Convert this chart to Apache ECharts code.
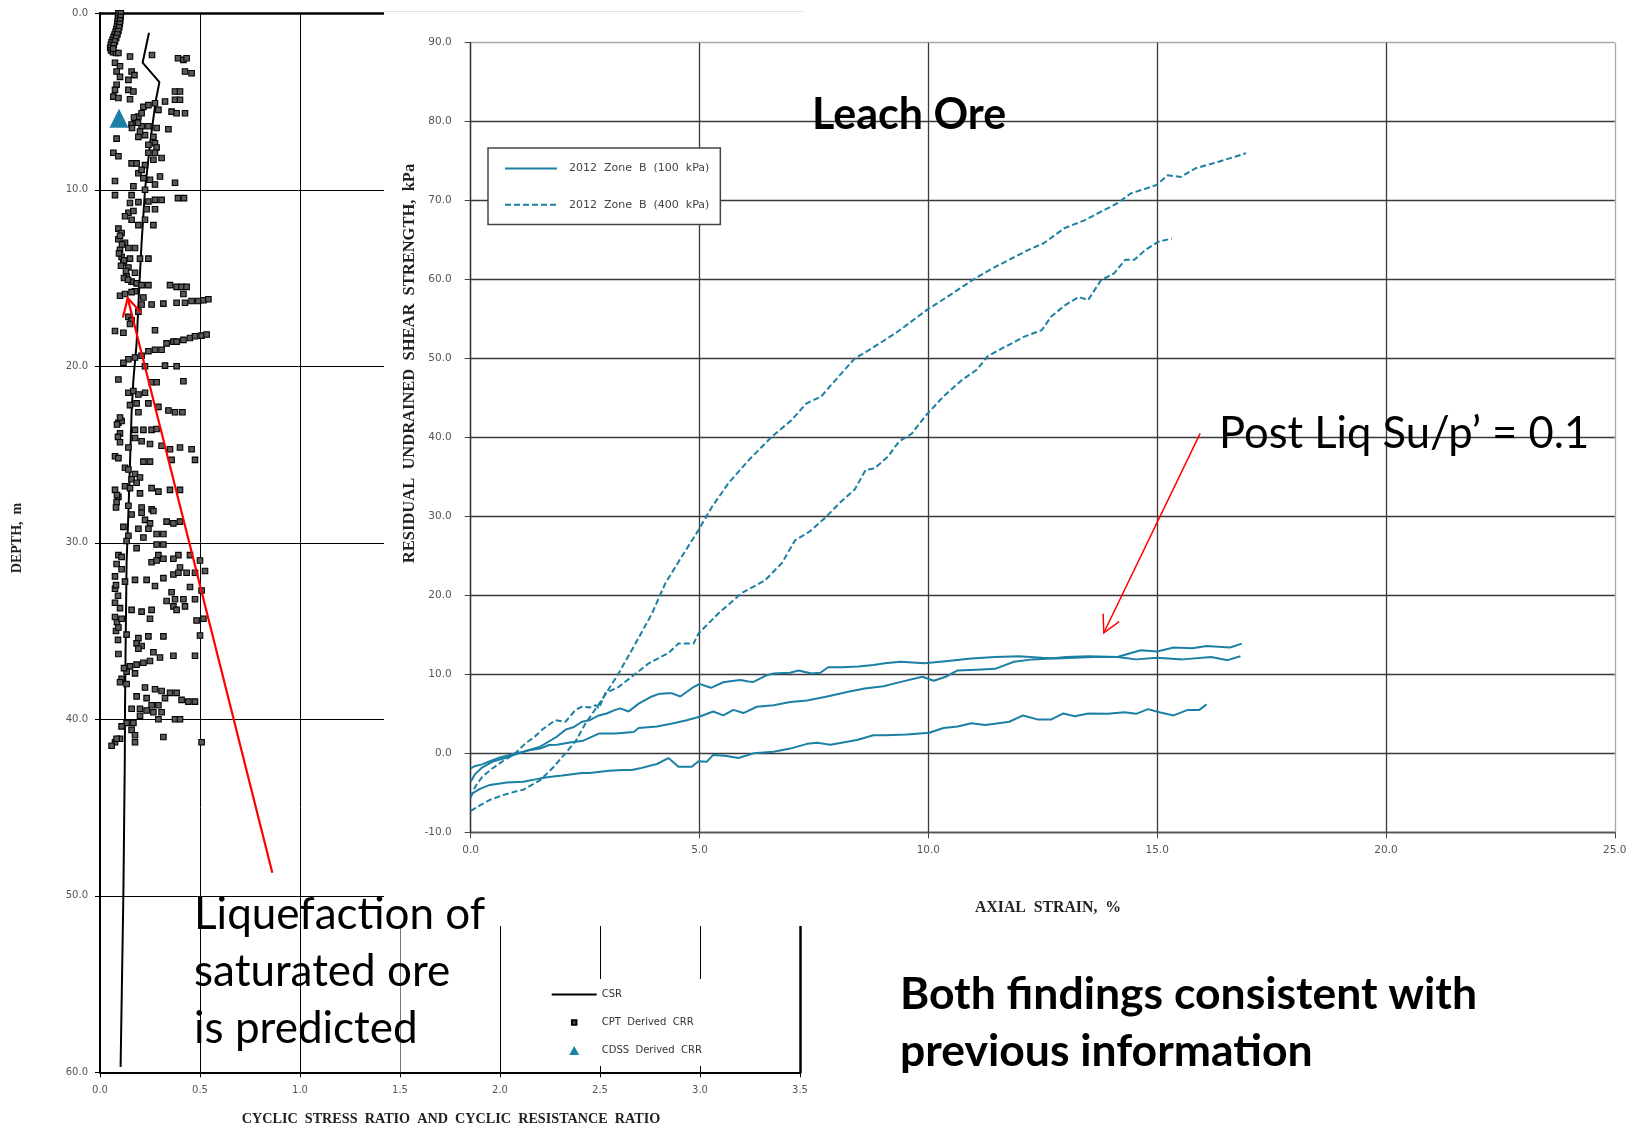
<!DOCTYPE html>
<html><head><meta charset="utf-8">
<script src="https://cdn.jsdelivr.net/npm/echarts@6/dist/echarts.min.js"></script>
<style>html,body{margin:0;padding:0;background:#fff;}#c{width:1638px;height:1128px;}</style>
</head><body><div id="c"></div>
<script>
// ---------- LEFT CHART DATA (CRR / CSR vs depth) ----------
const csrLine = [[0.245,1.1],[0.213,2.8],[0.297,3.9],[0.278,5.0],[0.25,7.4],[0.225,10],[0.208,13],[0.195,15.8],[0.183,18.7],[0.167,20.75],[0.158,22.6],[0.15,25.5],[0.142,28.3],[0.133,31.1],[0.128,35.9],[0.125,39.6],[0.124,42.3],[0.117,49.8],[0.103,59.7]];
const cdssCRR = [[0.095,5.95]];
const cptCRR = [
[0.092,0.0],[0.091,0.15],[0.090,0.3],[0.089,0.45],[0.087,0.6],[0.085,0.75],[0.082,0.9],[0.078,1.05],[0.073,1.2],[0.068,1.35],[0.063,1.5],[0.058,1.65],[0.054,1.8],[0.051,1.95],[0.055,2.1],[0.065,2.2],[0.08,2.25],[0.092,2.25],
[0.104,0.0],[0.103,0.2],[0.101,0.4],[0.099,0.6],[0.096,0.8],[0.092,1.0],[0.087,1.2],[0.081,1.4],[0.075,1.6],[0.069,1.8],[0.066,2.0],
[0.075,2.8],[0.10,3.0],[0.15,2.45],[0.26,2.36],[0.39,2.55],[0.417,2.64],[0.433,2.55],[0.425,3.3],[0.458,3.4],
[0.083,3.3],[0.10,3.6],[0.142,3.77],[0.158,3.3],[0.172,3.5],[0.083,4.05],[0.075,4.34],[0.142,4.34],[0.167,4.43],[0.067,4.72],[0.092,4.8],[0.15,4.87],[0.375,4.43],[0.40,4.43],[0.375,4.9],[0.40,4.9],[0.325,5.0],[0.217,5.3],[0.242,5.2],[0.275,5.1],[0.292,5.47],[0.358,5.57],[0.383,5.66],[0.425,5.66],
[0.175,6.04],[0.192,5.85],[0.208,5.66],[0.158,6.3],[0.183,6.2],[0.208,6.4],[0.242,6.4],[0.283,6.5],[0.342,6.57],[0.192,7.0],[0.225,6.9],[0.267,7.0],[0.083,7.1],[0.242,7.45],[0.275,7.36],[0.283,7.6],[0.067,7.9],[0.092,8.1],[0.242,7.9],[0.275,7.9],[0.267,8.3],[0.308,8.2],[0.158,8.5],[0.183,8.5],[0.225,8.6],[0.192,9.06],[0.208,8.87],[0.30,9.25],[0.217,9.34],[0.25,9.43],[0.275,9.7],[0.375,9.6],[0.075,9.5],[0.167,9.8],[0.225,10.0],[0.075,10.3],[0.158,10.3],
[0.17,5.9],[0.19,6.2],[0.16,6.5],[0.2,6.7],
[0.15,10.75],[0.192,10.7],[0.242,10.66],[0.275,10.57],[0.308,10.57],[0.39,10.47],[0.42,10.47],[0.142,11.3],[0.167,11.2],[0.233,11.1],[0.275,11.1],[0.125,11.5],[0.158,11.7],[0.192,12.0],[0.225,11.7],[0.267,12.0],[0.092,12.2],[0.108,12.45],
[0.092,12.8],[0.125,13.0],[0.10,13.4],[0.142,13.3],[0.175,13.3],[0.108,13.8],[0.15,13.9],[0.20,13.9],[0.242,13.9],[0.117,14.15],[0.142,14.4],[0.175,14.7],[0.133,14.9],[0.158,15.2],[0.183,15.3],[0.208,15.4],[0.242,15.4],[0.35,15.4],[0.383,15.5],[0.408,15.5],[0.433,15.5],[0.417,15.9],[0.175,15.75],[0.10,16.0],[0.125,15.9],[0.158,15.8],
[0.1,12.6],[0.11,13.1],[0.095,13.6],[0.12,14.0],[0.105,14.3],[0.13,14.6],[0.12,15.0],[0.14,15.1],
[0.217,16.1],[0.208,16.5],[0.258,16.5],[0.317,16.45],[0.383,16.4],[0.425,16.4],[0.458,16.3],[0.492,16.3],[0.517,16.26],[0.542,16.2],[0.142,17.2],[0.158,17.4],[0.192,16.9],[0.15,17.6],[0.075,18.0],[0.117,18.1],[0.275,17.96],
[0.333,18.7],[0.367,18.6],[0.383,18.6],[0.417,18.5],[0.45,18.4],[0.475,18.3],[0.508,18.26],[0.533,18.2],[0.308,19.06],[0.275,19.06],[0.242,19.15],[0.208,19.4],[0.175,19.5],[0.142,19.6],[0.117,19.8],[0.325,19.96],[0.383,20.0],[0.225,20.0],
[0.092,20.75],[0.142,21.5],[0.167,21.4],[0.192,21.6],[0.225,21.5],[0.258,20.9],[0.283,20.9],[0.417,20.85],[0.15,22.2],[0.183,22.1],[0.242,22.1],[0.292,22.3],[0.342,22.5],[0.375,22.6],[0.412,22.6],[0.192,22.6],
[0.092,23.2],[0.108,23.1],[0.175,23.6],[0.217,23.6],[0.258,23.6],[0.283,23.55],[0.10,23.8],[0.175,24.06],[0.208,24.25],[0.25,24.4],[0.142,24.6],[0.308,24.5],[0.35,24.7],[0.40,24.6],[0.458,24.7],[0.075,25.1],[0.092,25.2],[0.217,25.4],[0.25,25.4],[0.358,25.3],[0.475,25.3],
[0.1,22.9],[0.085,23.3],[0.09,24.0],[0.1,24.3],
[0.125,25.75],[0.142,25.85],[0.175,26.1],[0.20,26.3],[0.158,26.4],[0.183,26.6],[0.125,26.8],[0.15,26.9],[0.258,26.9],[0.292,27.1],[0.35,27.0],[0.40,27.0],[0.20,27.2],[0.092,27.4],[0.083,27.7],[0.142,27.9],[0.208,28.0],[0.258,28.1],
[0.075,27.0],[0.085,27.3],[0.08,28.0],
[0.158,28.4],[0.208,28.3],[0.267,28.2],[0.225,28.7],[0.25,28.9],[0.117,29.1],[0.333,28.8],[0.367,28.9],[0.40,28.8],[0.192,29.2],[0.242,29.2],[0.283,29.5],[0.317,29.5],[0.142,29.6],[0.217,29.7],[0.133,29.9],[0.283,30.1],[0.317,30.1],
[0.183,30.3],[0.092,30.7],[0.108,30.8],[0.292,30.7],[0.392,30.7],[0.45,30.7],[0.50,31.0],[0.258,31.1],[0.283,31.0],[0.317,30.9],[0.367,30.9],[0.083,31.2],[0.108,31.5],[0.40,31.4],[0.075,31.9],[0.125,32.2],[0.175,32.1],[0.233,32.1],[0.317,32.0],[0.367,31.8],[0.392,31.7],[0.433,31.7],[0.475,31.7],[0.525,31.6],[0.275,32.45],[0.45,32.5],[0.508,32.7],[0.075,32.6],[0.358,32.8],
[0.08,32.4],[0.09,33.0],[0.075,33.4],[0.085,34.5],[0.08,35.0],[0.09,35.5],
[0.333,33.3],[0.375,33.2],[0.417,33.2],[0.475,33.2],[0.367,33.6],[0.383,33.8],[0.425,33.6],[0.10,33.7],[0.158,33.8],[0.208,33.9],[0.258,33.8],[0.075,34.2],[0.108,34.3],[0.25,34.3],[0.483,34.4],[0.517,34.3],[0.092,34.8],[0.133,35.2],[0.192,35.4],[0.242,35.3],[0.317,35.3],[0.50,35.25],[0.183,35.7],[0.208,35.85],
[0.092,36.3],[0.192,36.0],[0.267,36.2],[0.30,36.5],[0.367,36.4],[0.475,36.4],[0.15,37.0],[0.183,36.9],[0.217,36.8],[0.25,36.7],[0.133,37.3],[0.175,37.4],[0.108,37.7],[0.133,38.0],[0.225,38.2],[0.275,38.3],[0.308,38.4],[0.35,38.5],[0.383,38.5],[0.325,38.8],[0.183,38.7],[0.233,38.8],[0.408,38.9],[0.442,39.0],[0.475,39.0],
[0.12,37.1],[0.1,37.9],
[0.258,39.2],[0.292,39.2],[0.158,39.4],[0.20,39.4],[0.233,39.5],[0.267,39.6],[0.308,39.6],[0.20,39.8],[0.292,40.0],[0.375,40.0],[0.40,40.0],[0.133,40.2],[0.108,40.4],[0.167,40.2],[0.158,40.6],[0.175,40.9],[0.10,41.1],[0.075,41.3],[0.058,41.5],[0.317,41.0],[0.508,41.3],[0.083,41.1],[0.175,41.3]
];
const leftXRange = [0, 3.5, 0.5];   // min, max, interval (CSR / CRR)
const leftYRange = [0, 60, 10];     // depth, m

// ---------- RIGHT CHART DATA (residual undrained shear strength vs axial strain) ----------
const zoneB100a = [[0,-1.9],[0.1,-1.6],[0.25,-1.4],[0.42,-1.0],[0.6,-0.6],[0.79,-0.3],[1.0,0],[1.15,0.2],[1.5,0.8],[1.88,2.1],[2.07,3.0],[2.24,3.3],[2.43,4.0],[2.6,4.2],[2.8,4.8],[2.97,5.05],[3.16,5.5],[3.27,5.7],[3.45,5.3],[3.67,6.3],[3.96,7.2],[4.1,7.5],[4.29,7.6],[4.4,7.6],[4.58,7.2],[4.87,8.4],[5.0,8.8],[5.25,8.3],[5.52,9.0],[5.63,9.1],[5.89,9.3],[6.07,9.1],[6.18,9.05],[6.47,9.9],[6.62,10.1],[6.98,10.2],[7.16,10.5],[7.45,10.1],[7.64,10.2],[7.81,10.9],[8.1,10.9],[8.47,11.0],[8.8,11.2],[9.05,11.4],[9.39,11.6],[9.92,11.4],[10.43,11.7],[10.94,12.0],[11.46,12.2],[11.97,12.3],[12.48,12.1],[12.8,12.0],[13.2,12.1],[13.6,12.2],[14.13,12.2],[14.54,11.9],[15.0,12.1],[15.56,11.9],[16.18,12.2],[16.54,11.8],[16.82,12.3]];
const zoneB100b = [[0,-3.6],[0.1,-2.6],[0.25,-1.8],[0.5,-1.0],[0.75,-0.6],[1.0,-0.1],[1.27,0.4],[1.52,0.6],[1.71,1.05],[1.88,1.1],[2.2,1.4],[2.46,1.6],[2.8,2.5],[3.05,2.5],[3.16,2.5],[3.56,2.7],[3.67,3.2],[4.07,3.4],[4.43,3.8],[4.72,4.2],[4.98,4.6],[5.3,5.3],[5.52,4.8],[5.74,5.5],[5.96,5.1],[6.25,5.9],[6.62,6.1],[6.98,6.5],[7.35,6.7],[7.79,7.2],[8.25,7.8],[8.61,8.2],[9.02,8.5],[9.4,9.05],[9.87,9.7],[10.12,9.2],[10.38,9.7],[10.64,10.5],[11.05,10.6],[11.46,10.7],[11.87,11.6],[12.28,11.9],[12.69,12.0],[13.0,12.2],[13.51,12.3],[14.13,12.2],[14.64,13.05],[15.0,12.9],[15.36,13.4],[15.77,13.3],[16.08,13.6],[16.59,13.4],[16.85,13.9]];
const zoneB100c = [[0,-5.2],[0.2,-4.5],[0.42,-4.0],[0.79,-3.7],[1.15,-3.6],[1.5,-3.2],[1.71,-3.0],[2.0,-2.8],[2.43,-2.5],[2.6,-2.5],[3.02,-2.2],[3.34,-2.1],[3.52,-2.1],[3.7,-1.9],[3.96,-1.5],[4.07,-1.35],[4.32,-0.6],[4.54,-1.7],[4.83,-1.7],[4.98,-1.0],[5.16,-1.05],[5.3,-0.2],[5.56,-0.3],[5.85,-0.6],[6.18,0],[6.62,0.2],[6.98,0.6],[7.35,1.2],[7.57,1.35],[7.86,1.1],[8.44,1.7],[8.8,2.3],[9.05,2.3],[9.53,2.4],[10.02,2.6],[10.33,3.2],[10.64,3.4],[10.94,3.8],[11.25,3.6],[11.77,4.0],[12.07,4.8],[12.38,4.3],[12.69,4.3],[12.95,5.05],[13.2,4.7],[13.5,5.05],[13.92,5.0],[14.28,5.2],[14.54,5.0],[14.8,5.6],[15.05,5.2],[15.36,4.8],[15.67,5.5],[15.92,5.5],[16.08,6.2]];
const zoneB400a = [[0,-7.3],[0.2,-6.6],[0.42,-5.9],[0.7,-5.3],[1.0,-4.8],[1.15,-4.6],[1.52,-3.4],[1.8,-1.8],[2.07,0],[2.3,1.6],[2.51,3.8],[2.87,6.8],[3.23,10.1],[3.6,13.9],[3.96,17.7],[4.25,21.5],[4.61,24.9],[4.98,28.3],[5.27,31.2],[5.63,34.2],[6.07,37.1],[6.58,40.1],[7.01,42.2],[7.33,44.3],[7.66,45.2],[7.9,46.8],[8.39,50.0],[8.71,51.1],[9.28,53.2],[9.98,56.2],[10.41,57.8],[10.98,60.0],[11.46,61.6],[12.2,63.8],[12.52,64.6],[12.97,66.5],[13.41,67.5],[14.14,69.7],[14.42,70.9],[14.79,71.6],[14.99,72.0],[15.23,73.2],[15.52,73.0],[15.84,74.1],[16.33,74.9],[16.94,76.0]];
const zoneB400b = [[0,-5.6],[0.1,-4.2],[0.25,-3.0],[0.45,-2.0],[0.7,-1.0],[0.9,-0.3],[1.05,0.4],[1.2,1.3],[1.38,2.0],[1.56,3.0],[1.85,4.2],[2.07,4.0],[2.29,5.5],[2.43,5.9],[2.6,5.8],[2.73,6.1],[2.8,5.7],[2.94,7.6],[3.23,8.4],[3.52,9.7],[3.89,11.4],[4.32,12.7],[4.54,13.9],[4.87,13.9],[4.98,15.2],[5.41,17.7],[5.92,20.3],[6.43,21.9],[6.8,24.1],[7.09,27.0],[7.41,28.1],[7.74,29.8],[8.06,31.7],[8.39,33.4],[8.63,35.9],[8.83,36.1],[9.12,37.6],[9.36,39.5],[9.64,40.5],[9.93,42.7],[10.33,45.2],[10.74,47.3],[11.06,48.6],[11.3,50.3],[11.55,51.1],[12.11,52.8],[12.48,53.6],[12.68,55.3],[13.0,56.8],[13.29,57.8],[13.49,57.4],[13.77,59.9],[14.06,60.8],[14.3,62.5],[14.5,62.5],[14.75,63.8],[15.03,64.8],[15.32,65.2]];
const rightXRange = [0, 25, 5];     // axial strain, %
const rightYRange = [-10, 90, 10];  // kPa

// annotation arrows in data coordinates: [base, tip]
const arrowLiq = [[0.8615,48.7],[0.1385,16.13]];
const arrowSu = [[15.94,40.53],[13.835,15.27]];

const TEAL = '#1b80a3';
const name100 = '2012 Zone B (100 kPa)';
const name400 = '2012 Zone B (400 kPa)';
const lblFont = 'DejaVu Sans';
const fmt1 = v => Number(v).toFixed(1);
const spaced = n => n.replace(/ /g, '  ');

const chart = echarts.init(document.getElementById('c'), null, {renderer: 'canvas'});

const rightYSplitColors = [];
for (let v = rightYRange[0]; v <= rightYRange[1]; v += rightYRange[2]) rightYSplitColors.push(v === rightYRange[1] ? '#a8a8a8' : '#3a3a3a');
const rightXSplitColors = [];
for (let v = rightXRange[0]; v <= rightXRange[1]; v += rightXRange[2]) rightXSplitColors.push(v === rightXRange[1] ? '#a8a8a8' : '#3a3a3a');
const leftXSplitColors = [];
for (let v = leftXRange[0]; v <= leftXRange[1] + 1e-9; v += leftXRange[2]) leftXSplitColors.push(Math.abs(v - 1.5) < 1e-6 ? '#777' : '#000');

const option = {
  animation: false,
  backgroundColor: '#fff',
  grid: [
    {left: 100, top: 13.3, width: 700, height: 1059, outerBoundsMode: 'none', containLabel: false},
    {left: 470.7, top: 42.7, width: 1144.1, height: 789.6, outerBoundsMode: 'none', containLabel: false}
  ],
  xAxis: [
    {gridIndex: 0, type: 'value', position: 'bottom', min: leftXRange[0], max: leftXRange[1], interval: leftXRange[2], z: 0,
     axisLine: {show: true, onZero: false, lineStyle: {color: '#000', width: 2}},
     axisTick: {show: true, length: 5, lineStyle: {color: '#000'}},
     axisLabel: {formatter: fmt1, color: '#555', fontFamily: lblFont, fontSize: 10, margin: 13, showMinLabel: true, showMaxLabel: true},
     splitLine: {show: true, lineStyle: {color: leftXSplitColors, width: 1, type: 'solid'}}},
    {gridIndex: 0, type: 'value', position: 'top', min: leftXRange[0], max: leftXRange[1], interval: leftXRange[2], z: 0,
     axisLine: {show: true, onZero: false, lineStyle: {color: '#000', width: 2.5}},
     axisTick: {show: false}, axisLabel: {show: false}, splitLine: {show: false}},
    {gridIndex: 1, type: 'value', position: 'bottom', min: rightXRange[0], max: rightXRange[1], interval: rightXRange[2], z: 4,
     axisLine: {show: true, onZero: false, lineStyle: {color: '#555', width: 1.3}},
     axisTick: {show: true, length: 6, lineStyle: {color: '#444'}},
     axisLabel: {formatter: fmt1, color: '#555', fontFamily: lblFont, fontSize: 10.5, margin: 12, showMinLabel: true, showMaxLabel: true},
     splitLine: {show: true, lineStyle: {color: rightXSplitColors, width: 1.3, type: 'solid'}}}
  ],
  yAxis: [
    {gridIndex: 0, type: 'value', position: 'left', inverse: true, min: leftYRange[0], max: leftYRange[1], interval: leftYRange[2], z: 0,
     axisLine: {show: true, onZero: false, lineStyle: {color: '#000', width: 2}},
     axisTick: {show: true, length: 5, lineStyle: {color: '#000'}},
     axisLabel: {formatter: fmt1, color: '#555', fontFamily: lblFont, fontSize: 10, margin: 12, showMinLabel: true, showMaxLabel: true},
     splitLine: {show: true, lineStyle: {color: '#000', width: 1, type: 'solid'}}},
    {gridIndex: 0, type: 'value', position: 'right', inverse: true, min: leftYRange[0], max: leftYRange[1], interval: leftYRange[2], z: 0,
     axisLine: {show: true, onZero: false, lineStyle: {color: '#000', width: 2.5}},
     axisTick: {show: false}, axisLabel: {show: false}, splitLine: {show: false}},
    {gridIndex: 1, type: 'value', position: 'left', min: rightYRange[0], max: rightYRange[1], interval: rightYRange[2], z: 4,
     axisLine: {show: true, onZero: false, lineStyle: {color: '#333', width: 1.3}},
     axisTick: {show: true, length: 6, lineStyle: {color: '#444'}},
     axisLabel: {formatter: fmt1, color: '#555', fontFamily: lblFont, fontSize: 10.5, margin: 19, showMinLabel: true, showMaxLabel: true},
     splitLine: {show: true, lineStyle: {color: rightYSplitColors, width: 1.3, type: 'solid'}}}
  ],
  legend: [
    {id: 'legLeft', orient: 'vertical', left: 510, top: 979,
     data: [
       {name: 'CSR', itemStyle: {opacity: 0}},
       {name: 'CPT Derived CRR', icon: 'path://M-5,-5 M15,15 M0,0 L10,0 L10,10 L0,10 Z'},
       {name: 'CDSS Derived CRR', icon: 'path://M5,0 L10,9 L0,9 Z'}
     ],
     itemWidth: 45, itemHeight: 9, itemGap: 17.5, padding: [10.5, 40, 10.5, 40.7], backgroundColor: '#fff',
     symbolKeepAspect: true, selectedMode: false, formatter: spaced, z: 4,
     textStyle: {fontFamily: lblFont, fontSize: 10, color: '#333'}},
    {id: 'legRight', orient: 'vertical', left: 488, top: 148,
     data: [{name: name100, itemStyle: {opacity: 0}}, {name: name400, itemStyle: {opacity: 0}}],
     itemWidth: 52, itemHeight: 14, itemGap: 25, padding: [15, 11, 14, 16], backgroundColor: '#fff',
     borderColor: '#444', borderWidth: 1.5, selectedMode: false, formatter: spaced, z: 6,
     textStyle: {fontFamily: lblFont, fontSize: 11, color: '#444', padding: [0, 0, 0, 7]}}
  ],
  series: [
    {name: 'CSR', type: 'line', xAxisIndex: 0, yAxisIndex: 0, data: csrLine, symbol: 'none', z: 2,
     lineStyle: {color: '#000', width: 2}, itemStyle: {color: '#000'}},
    {name: 'CPT Derived CRR', type: 'scatter', xAxisIndex: 0, yAxisIndex: 0, data: cptCRR, symbol: 'rect', symbolSize: 5.5, z: 2,
     itemStyle: {color: '#5a5a5a', borderColor: '#000', borderWidth: 1.1, opacity: 1}},
    {name: 'CDSS Derived CRR', type: 'scatter', xAxisIndex: 0, yAxisIndex: 0, data: cdssCRR, symbol: 'triangle', symbolSize: 19, z: 2,
     itemStyle: {color: TEAL, opacity: 1}},
    {name: name100, type: 'line', xAxisIndex: 2, yAxisIndex: 2, data: zoneB100a, symbol: 'none', z: 5, lineStyle: {color: TEAL, width: 2}, itemStyle: {color: TEAL}},
    {name: name100, type: 'line', xAxisIndex: 2, yAxisIndex: 2, data: zoneB100b, symbol: 'none', z: 5, lineStyle: {color: TEAL, width: 2}, itemStyle: {color: TEAL}},
    {name: name100, type: 'line', xAxisIndex: 2, yAxisIndex: 2, data: zoneB100c, symbol: 'none', z: 5, lineStyle: {color: TEAL, width: 2}, itemStyle: {color: TEAL}},
    {name: name400, type: 'line', xAxisIndex: 2, yAxisIndex: 2, data: zoneB400a, symbol: 'none', z: 5, lineStyle: {color: TEAL, width: 2, type: [6, 3]}, itemStyle: {color: TEAL}},
    {name: name400, type: 'line', xAxisIndex: 2, yAxisIndex: 2, data: zoneB400b, symbol: 'none', z: 5, lineStyle: {color: TEAL, width: 2, type: [6, 3]}, itemStyle: {color: TEAL}}
  ]
};
chart.setOption(option);

// ---- overlay, titles, annotations ----
function arrowGraphics(finder, pts, width, wingLen, wingDeg, id) {
  const b = chart.convertToPixel(finder, pts[0]);
  const t = chart.convertToPixel(finder, pts[1]);
  const dx = b[0] - t[0], dy = b[1] - t[1];
  const L = Math.hypot(dx, dy), ux = dx / L, uy = dy / L;
  const a = wingDeg * Math.PI / 180;
  const w1 = [t[0] + wingLen * (ux * Math.cos(a) - uy * Math.sin(a)), t[1] + wingLen * (ux * Math.sin(a) + uy * Math.cos(a))];
  const w2 = [t[0] + wingLen * (ux * Math.cos(-a) - uy * Math.sin(-a)), t[1] + wingLen * (ux * Math.sin(-a) + uy * Math.cos(-a))];
  return [
    {id: id + 'shaft', type: 'line', z: 10, silent: true, shape: {x1: b[0], y1: b[1], x2: t[0], y2: t[1]}, style: {stroke: '#ff0000', lineWidth: width}},
    {id: id + 'head', type: 'polyline', z: 10, silent: true, shape: {points: [w1, t, w2]}, style: {stroke: '#ff0000', lineWidth: width, fill: null, lineJoin: 'miter'}}
  ];
}
const txt = (id, x, y, text, font) => ({
  id, type: 'text', x, y, z: 10, silent: true,
  style: {text, font, fill: '#000', textAlign: 'left', textVerticalAlign: 'middle'}
});
const nameTxt = (id, x, y, text, size, rot) => ({
  id, type: 'text', x, y, rotation: rot || 0, z: 10, silent: true,
  style: {text, font: 'bold ' + size + 'px "Liberation Serif"', fill: '#222', textAlign: 'center', textVerticalAlign: 'middle'}
});
const graphics = [
  {id: 'cover', type: 'rect', z: 3, silent: true, shape: {x: 384, y: 0, width: 1254, height: 926}, style: {fill: '#fff'}},
  {id: 'edge', type: 'line', z: 3, silent: true, shape: {x1: 384, y1: 11.5, x2: 803, y2: 11.5}, style: {stroke: '#e2e2e2', lineWidth: 1}},
  nameTxt('nDepth', 17, 538, 'DEPTH,  m', 14, Math.PI / 2),
  nameTxt('nCsr', 451, 1119, 'CYCLIC  STRESS  RATIO  AND  CYCLIC  RESISTANCE  RATIO', 14.2),
  nameTxt('nSu', 410, 363.5, 'RESIDUAL  UNDRAINED  SHEAR  STRENGTH,  kPa', 16.5, Math.PI / 2),
  nameTxt('nStrain', 1048, 908, 'AXIAL  STRAIN,  %', 15.8),
  txt('tLeach', 812, 115.4, 'Leach Ore', 'bold 43px Lato'),
  txt('tPost', 1219, 434.4, 'Post Liq Su/p\u2019 = 0.1', '43.5px Lato'),
  txt('tLiq1', 194, 915.1, 'Liquefaction of', '44px Lato'),
  txt('tLiq2', 194, 972.3, 'saturated ore', '44px Lato'),
  txt('tLiq3', 194, 1029.3, 'is predicted', '44px Lato'),
  txt('tBoth1', 900, 994.5, 'Both findings consistent with', 'bold 44.5px Lato'),
  txt('tBoth2', 900, 1052, 'previous information', 'bold 44.5px Lato')
]
.concat(arrowGraphics({xAxisIndex: 0, yAxisIndex: 0}, arrowLiq, 2.2, 20, 28, 'aL'))
.concat(arrowGraphics({xAxisIndex: 2, yAxisIndex: 2}, arrowSu, 1.5, 19, 28, 'aS'));

chart.setOption({graphic: {elements: graphics}});
</script>
</body></html>
